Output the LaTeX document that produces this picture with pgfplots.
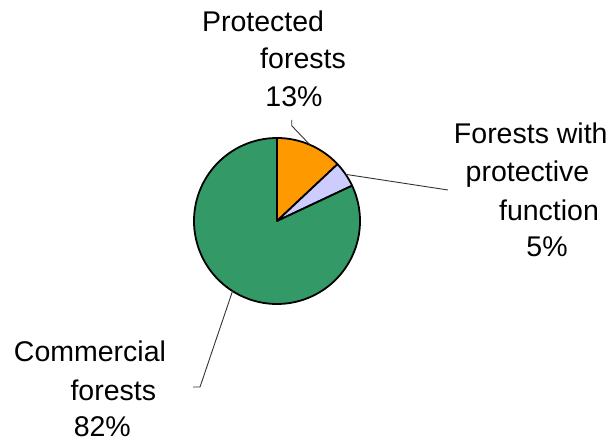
\documentclass[border=0pt]{standalone}
\usepackage{fontspec}
\setmainfont{Liberation Sans}
\usepackage{pgfplots}
\usepackage{pgfplotstable}
\pgfplotsset{compat=1.18}

\definecolor{sliceOrange}{HTML}{FF9900}
\definecolor{sliceLavender}{HTML}{CCCCFF}
\definecolor{sliceGreen}{HTML}{339966}
\definecolor{leader}{HTML}{333333}

% Forest categories (share in percent)
\pgfplotstableread{
category value
Protected 13
Protective 5
Commercial 82
}\foresttable

\pgfplotstablegetelem{0}{value}\of\foresttable \let\vA\pgfplotsretval
\pgfplotstablegetelem{1}{value}\of\foresttable \let\vB\pgfplotsretval
\pgfplotstablegetelem{2}{value}\of\foresttable \let\vC\pgfplotsretval

% slices run clockwise from twelve o'clock
\pgfmathsetmacro{\aStart}{90}
\pgfmathsetmacro{\aEnd}{90-3.6*\vA}
\pgfmathsetmacro{\bEnd}{\aEnd-3.6*\vB}
\pgfmathsetmacro{\cEnd}{\bEnd-3.6*\vC}
\pgfmathsetmacro{\aMid}{(\aStart+\aEnd)/2}
\pgfmathsetmacro{\bMid}{(\aEnd+\bEnd)/2}
\pgfmathsetmacro{\cMid}{(\bEnd+\cEnd)/2}

\def\cx{277}
\def\cy{221}
\def\rr{83}

\begin{document}
\begin{tikzpicture}
\begin{axis}[
  name=pie,
  scale only axis,
  width=613bp, height=443bp,
  xmin=0, xmax=613, ymin=0, ymax=443,
  y dir=reverse,
  hide axis,
  clip=false,
]
\addplot[fill=sliceOrange, draw=black, line width=1.8pt, line join=round,
  domain=\aEnd:\aStart, samples=40, variable=\t]
  ({\cx+\rr*cos(\t)}, {\cy-\rr*sin(\t)}) -- (axis cs:\cx,\cy) -- cycle;
\addplot[fill=sliceLavender, draw=black, line width=1.8pt, line join=round,
  domain=\bEnd:\aEnd, samples=20, variable=\t]
  ({\cx+\rr*cos(\t)}, {\cy-\rr*sin(\t)}) -- (axis cs:\cx,\cy) -- cycle;
\addplot[fill=sliceGreen, draw=black, line width=1.8pt, line join=round,
  domain=\cEnd:\bEnd, samples=150, variable=\t]
  ({\cx+\rr*cos(\t)}, {\cy-\rr*sin(\t)}) -- (axis cs:\cx,\cy) -- cycle;

% leader lines
\draw[leader, line width=0.9pt]
  (axis cs:{\cx+\rr*cos(\aMid)},{\cy-\rr*sin(\aMid)}) -- (axis cs:291.7,125.7) -- (axis cs:291.7,120);
\draw[leader, line width=0.9pt]
  (axis cs:{\cx+\rr*cos(\bMid)},{\cy-\rr*sin(\bMid)}) -- (axis cs:448,190);
\draw[leader, line width=0.9pt]
  (axis cs:{\cx+\rr*cos(\cMid)},{\cy-\rr*sin(\cMid)}) -- (axis cs:200,387) -- (axis cs:193,387);

% labels
\begin{scope}[every node/.style={anchor=base, inner sep=0pt,
    font=\fontsize{28.5bp}{34bp}\selectfont}]
\node at (axis cs:263,31.7) {Protected};
\node at (axis cs:303,68.3) {forests};
\node at (axis cs:294,107) {13\%};

\node at (axis cs:530.8,143.3) {Forests with};
\node at (axis cs:527.5,181.7) {protective};
\node at (axis cs:549,220) {function};
\node at (axis cs:547,256.7) {5\%};

\node at (axis cs:90,361.7) {Commercial};
\node at (axis cs:113.3,400) {forests};
\node at (axis cs:102.3,436.7) {82\%};
\end{scope}
\end{axis}
\pgfresetboundingbox
\path[use as bounding box] (pie.south west) rectangle (pie.north east);
\end{tikzpicture}
\end{document}
